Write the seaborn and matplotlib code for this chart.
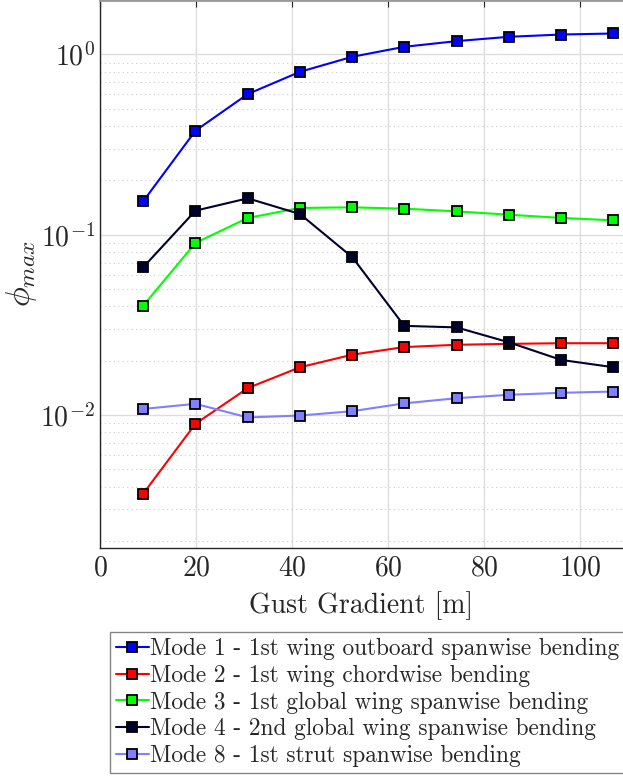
import numpy as np
import pandas as pd
import seaborn as sns
import matplotlib.pyplot as plt
from matplotlib.ticker import LogLocator, NullFormatter

sns.set_style('white')
plt.rcParams['font.family'] = ['cmr10', 'DejaVu Serif']
plt.rcParams['mathtext.fontset'] = 'cm'
plt.rcParams['axes.formatter.use_mathtext'] = True

# gust gradient [m]
gust = [9.0, 19.9, 30.8, 41.7, 52.6, 63.4, 74.3, 85.2, 96.1, 107.0]

mode1 = [0.153, 0.377, 0.602, 0.800, 0.969, 1.10, 1.183, 1.250, 1.287, 1.304]
mode2 = [0.00366, 0.00894, 0.0141, 0.0184, 0.0216, 0.0238, 0.0245, 0.0248, 0.0250, 0.0250]
mode3 = [0.0404, 0.0899, 0.1238, 0.1406, 0.1417, 0.1393, 0.1346, 0.129, 0.1238, 0.120]
mode4 = [0.0659, 0.1358, 0.159, 0.130, 0.0749, 0.0312, 0.0306, 0.0253, 0.0202, 0.0184]
mode8 = [0.0108, 0.01153, 0.00969, 0.00993, 0.0105, 0.0116, 0.01239, 0.01294, 0.01327, 0.01349]

labels = ['Mode 1 - 1st wing outboard spanwise bending',
          'Mode 2 - 1st wing chordwise bending',
          'Mode 3 - 1st global wing spanwise bending',
          'Mode 4 - 2nd global wing spanwise bending',
          'Mode 8 - 1st strut spanwise bending']
colors = ['#0000ff', '#ff0000', '#00ff00', '#00002e', '#8080ff']

series = [mode1, mode2, mode3, mode4, mode8]
df = pd.concat([pd.DataFrame({'gust': gust, 'phi': s, 'mode': lab})
                for s, lab in zip(series, labels)], ignore_index=True)

fig = plt.figure(figsize=(6.23, 7.78), dpi=100)
ax = fig.add_axes([100/623, 230/778, 523/623, 548/778])

sns.lineplot(data=df, x='gust', y='phi', hue='mode', hue_order=labels,
             palette=colors, marker='s', markersize=7.5, markeredgecolor='k',
             markeredgewidth=1.3, linewidth=1.5, ax=ax, legend=True)

ax.set_yscale('log')
ax.set_xlim(0, 109)
ax.set_ylim(1.83e-3, 2.0)
ax.set_xticks([0, 20, 40, 60, 80, 100])
ax.yaxis.set_major_locator(LogLocator(base=10, numticks=10))
ax.yaxis.set_minor_locator(LogLocator(base=10, subs=np.arange(2, 10), numticks=20))
ax.yaxis.set_minor_formatter(NullFormatter())

ax.grid(True, which='major', color='#dddddd', linewidth=1.0)
ax.grid(True, which='minor', axis='y', color='#cccccc', linestyle=(0, (1, 3)), linewidth=0.8)
ax.tick_params(which='both', direction='in', top=True, right=False, colors='#262626',
               labelsize=20)
ax.tick_params(which='major', length=5)
ax.tick_params(which='minor', length=3)
ax.tick_params(axis='x', which='minor', top=False, bottom=False)
ax.tick_params(axis='x', pad=5)

for side in ['left', 'bottom']:
    ax.spines[side].set_color('#262626')
    ax.spines[side].set_linewidth(1.0)
ax.spines['top'].set_color('#999999')
ax.spines['top'].set_linewidth(2)
ax.spines['right'].set_visible(False)

ax.set_xlabel('Gust Gradient [m]', fontsize=20, color='#262626', labelpad=7)
ax.set_ylabel(r'$\phi_{max}$', fontsize=24, color='#262626', labelpad=1)

h, l = ax.get_legend_handles_labels()
ax.get_legend().remove()
leg = fig.legend(h, l, loc='upper left', bbox_to_anchor=(110/623, 1 - 632/778),
                 fontsize=16.8, frameon=True, fancybox=False, edgecolor='#666666',
                 handlelength=1.4, handletextpad=0.05, borderpad=0.25,
                 labelspacing=0.2, borderaxespad=0)
leg.get_frame().set_linewidth(1.0)

fig.savefig('out.png', dpi=100)
